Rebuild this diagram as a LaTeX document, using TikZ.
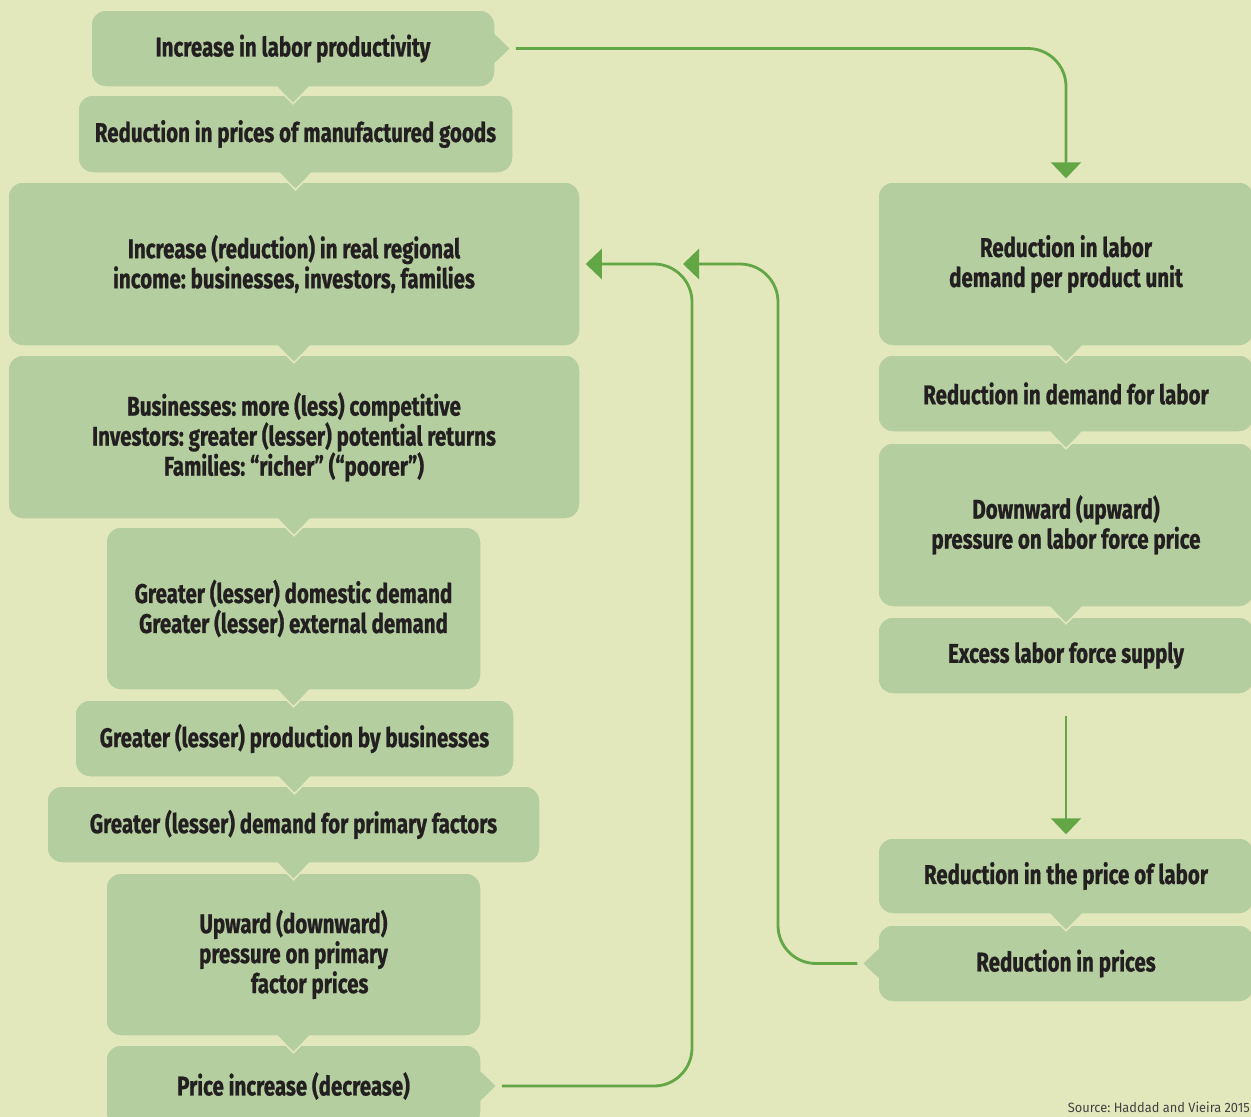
\documentclass[tikz,border=0pt]{standalone}
\usepackage{fontspec}
\usepackage{tikz}
\usetikzlibrary{arrows.meta}
\newfontfamily\boxfont[FakeStretch=0.76, FakeBold=0.8]{Fira Sans}
\newfontfamily\srcfont[FakeStretch=0.95]{Fira Sans}
\definecolor{bgc}{HTML}{E2E8BC}
\definecolor{boxc}{HTML}{B4CEA0}
\definecolor{flowc}{HTML}{63A646}
\definecolor{txtc}{HTML}{231F20}
\frenchspacing

\begin{document}
\begin{tikzpicture}[
	x=1pt, y=-1pt
	,box/.style={rectangle, rounded corners=15pt, fill=boxc, draw=bgc, line width=1.5pt, inner sep=0pt, align=center, text=txtc, font=\boxfont\bfseries\fontsize{27}{30}\selectfont}
	,flow/.style={draw=flowc, line width=2.8pt, rounded corners=38pt, -{Triangle[length=16pt, width=30pt]}}
]
	\path [use as bounding box, fill=bgc] (0,0) rectangle (1251,1117);
	\clip (0,0) rectangle (1251,1117);

	\node [box, minimum width=404pt, minimum height=77pt] (prod) at (293,48.5) {Increase in labor productivity};
	\node [box, minimum width=435pt, minimum height=78pt] (manu) at (295.5,134) {Reduction in prices of manufactured goods};
	\node [box, minimum width=572pt, minimum height=164pt] (real) at (294,264) {Increase (reduction) in real regional\\income: businesses, investors, families};
	\node [box, minimum width=572pt, minimum height=164pt] (bus) at (294,437) {Businesses: more (less) competitive\\Investors: greater (lesser) potential returns\\Families: “richer” (“poorer”)};
	\node [box, minimum width=375pt, minimum height=163pt] (dem) at (293.5,608.5) {Greater (lesser) domestic demand\\Greater (lesser) external demand};
	\node [box, minimum width=439pt, minimum height=77pt] (prodn) at (294.5,738.5) {Greater (lesser) production by businesses};
	\node [box, minimum width=493pt, minimum height=77pt] (fact) at (293.5,824.5) {Greater (lesser) demand for primary factors};
	\node [box, minimum width=375pt, minimum height=163pt] (upw) at (293.5,954.5) {Upward (downward)\\pressure on primary\\\hspace*{1.2em}factor prices};
	\node [box, minimum width=375pt, minimum height=82pt] (pinc) at (293.5,1086) {Price increase (decrease)};

	\node [box, minimum width=376pt, minimum height=164pt] (r1) at (1066,264) {Reduction in labor\\demand per product unit};
	\node [box, minimum width=376pt, minimum height=77pt] (r2) at (1066,393.5) {Reduction in demand for labor};
	\node [box, minimum width=376pt, minimum height=164pt] (r3) at (1066,525) {Downward (upward)\\pressure on labor force price};
	\node [box, minimum width=376pt, minimum height=77pt] (r4) at (1066,655.5) {Excess labor force supply};
	\node [box, minimum width=376pt, minimum height=76pt] (r5) at (1066,876) {Reduction in the price of labor};
	\node [box, minimum width=376pt, minimum height=77pt] (r6) at (1066,963.5) {Reduction in prices};

	\foreach \n in {prod,manu,real,bus,dem,prodn,fact,upw,r1,r2,r3,r5} {
		\fill [boxc] ([shift={(-16pt,2pt)}]\n.south) -- ([yshift=-16pt]\n.south) -- ([shift={(16pt,2pt)}]\n.south) -- cycle;
		\draw [bgc, line width=1.5pt] ([xshift=-16pt]\n.south) -- ([yshift=-16pt]\n.south) -- ([xshift=16pt]\n.south);
	}
	\foreach \n in {prod,pinc} {
		\fill [boxc] ([shift={(-2pt,15pt)}]\n.east) -- ([xshift=15pt]\n.east) -- ([shift={(-2pt,-15pt)}]\n.east) -- cycle;
		\draw [bgc, line width=1.5pt] ([yshift=15pt]\n.east) -- ([xshift=15pt]\n.east) -- ([yshift=-15pt]\n.east);
	}
	\fill [boxc] ([shift={(2pt,15pt)}]r6.west) -- ([xshift=-15pt]r6.west) -- ([shift={(2pt,-15pt)}]r6.west) -- cycle;
	\draw [bgc, line width=1.5pt] ([yshift=15pt]r6.west) -- ([xshift=-15pt]r6.west) -- ([yshift=-15pt]r6.west);

	\coordinate (upB) at (778,264);
	\coordinate (tipB) at (683,264);
	\coordinate (upC) at (692,264);
	\draw [flow] ([xshift=20pt]prod.east) -| ([yshift=3pt]r1.north);
	\draw [flow] ([xshift=-20pt]r6.west) -| (upB) -- (tipB);
	\draw [flow] ([xshift=20pt]pinc.east) -| (upC) -- ([xshift=5pt]real.east);
	\draw [flow, rounded corners=0pt] ([yshift=-21pt]r4.south) -- ([yshift=3pt]r5.north);

	\node [font=\srcfont\fontsize{13.5}{15}\selectfont, text=txtc!85, anchor=south east, inner sep=0pt] (src) at (1250,1113) {Source: Haddad and Vieira 2015};
\end{tikzpicture}
\end{document}
